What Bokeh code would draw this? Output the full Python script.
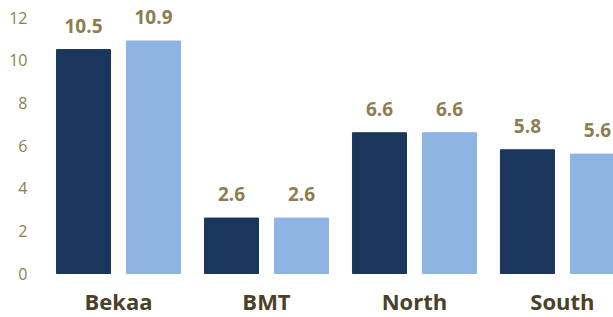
from bokeh.plotting import figure
from bokeh.models import ColumnDataSource, Range1d, FixedTicker
from bokeh.transform import dodge
from bokeh.core.properties import value
from bokeh.embed import file_html
from bokeh.resources import INLINE

categories = ["Bekaa", "BMT", "North", "South"]
series_a = [10.5, 2.6, 6.6, 5.8]
series_b = [10.9, 2.6, 6.6, 5.6]
y_ticks = [0, 2, 4, 6, 8, 10, 12]

xpos = list(range(len(categories)))
src = ColumnDataSource(dict(
    x=xpos,
    cat=categories,
    zero=[0] * len(categories),
    a=series_a,
    b=series_b,
    a_txt=[f"{v:.1f}" for v in series_a],
    b_txt=[f"{v:.1f}" for v in series_b],
))

p = figure(width=613, height=317, output_backend="svg", toolbar_location=None,
           x_range=Range1d(-0.5, 3.345), y_range=Range1d(-2.063, 12.8),
           x_axis_location=None,
           min_border_left=44, min_border_right=0, min_border_top=0, min_border_bottom=0)

dark = "#1B365D"
light = "#8EB4E3"
olive = "#8C7E50"
font = "Open Sans"

bw = 0.365
off = 0.2365
p.vbar(x=dodge("x", -off), top="a", width=bw, bottom=0, source=src, fill_color=dark, line_color=dark)
p.vbar(x=dodge("x", off), top="b", width=bw, bottom=0, source=src, fill_color=light, line_color=light)

for col, txt, dx in (("a", "a_txt", -off), ("b", "b_txt", off)):
    p.text(x=dodge("x", dx), y=col, text=txt, source=src, text_align="center",
           text_baseline="alphabetic", y_offset=-24, text_font=value(font),
           text_font_style="bold", text_font_size="19px", text_color=olive)

# category labels below the bars
p.text(x="x", y="zero", text="cat", source=src, text_align="center",
       text_baseline="alphabetic", y_offset=27, text_font=value(font),
       text_font_style="bold", text_font_size="22px", text_color="#4A4128")

p.xgrid.visible = False
p.ygrid.visible = False
p.outline_line_color = None
p.background_fill_color = "white"
p.border_fill_color = "white"

p.yaxis.ticker = FixedTicker(ticks=y_ticks)
p.yaxis.axis_line_color = None
p.yaxis.major_tick_line_color = None
p.yaxis.minor_tick_line_color = None
p.yaxis.major_tick_out = 0
p.yaxis.major_tick_in = 0
p.yaxis.major_label_standoff = 17
p.yaxis.major_label_text_font = font
p.yaxis.major_label_text_font_size = "16px"
p.yaxis.major_label_text_color = olive

open("out.html", "w").write(file_html(p, INLINE))
